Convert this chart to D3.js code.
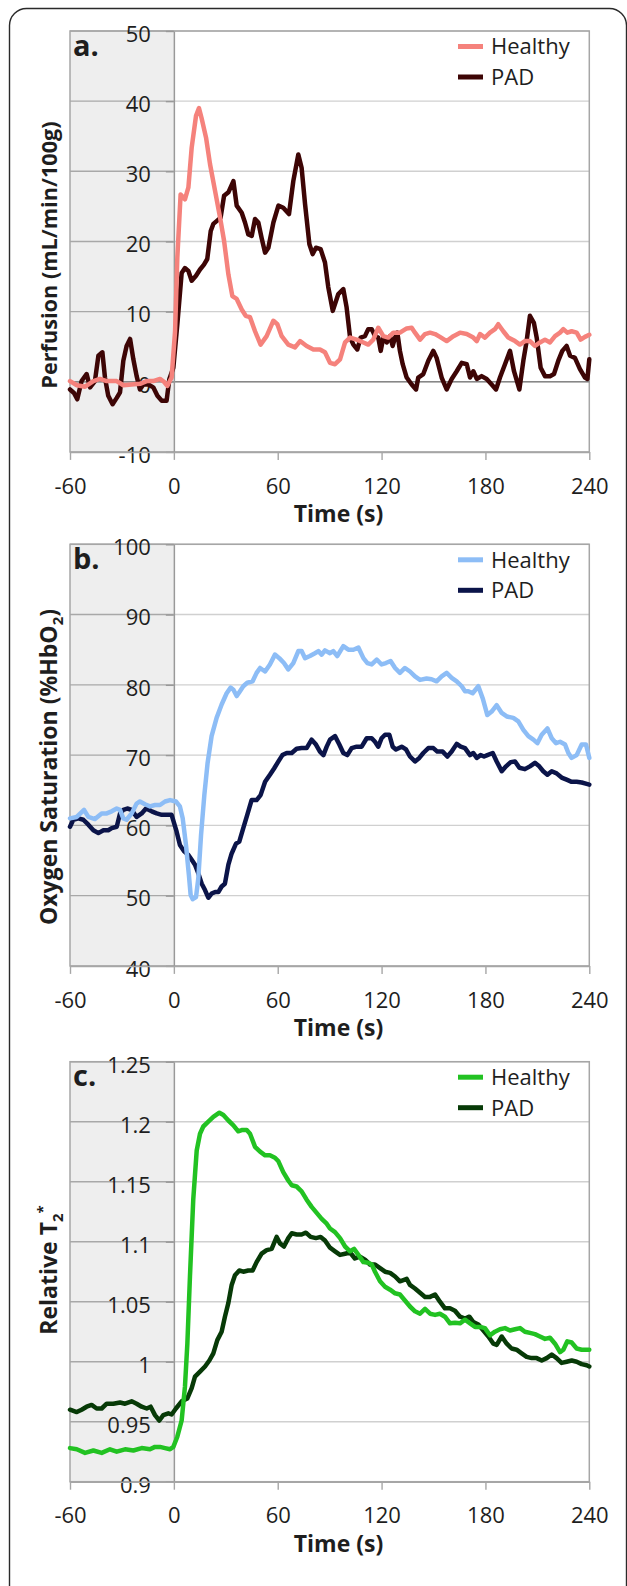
<!DOCTYPE html>
<html><head><meta charset="utf-8">
<script src="https://cdn.jsdelivr.net/npm/d3@7"></script>
<style>
html,body{margin:0;padding:0;background:#fff;}
svg{display:block;font-family:"Open Sans",sans-serif;}
</style></head><body>
<svg id="chart" width="627" height="1586"></svg>
<script>
// ---------- data ----------
const timeTicks = [-60, 0, 60, 120, 180, 240];
const perfTicks = [-10, 0, 10, 20, 30, 40, 50];
const oxyTicks = [40, 50, 60, 70, 80, 90, 100];
const t2Ticks = [0.9, 0.95, 1, 1.05, 1.1, 1.15, 1.2, 1.25];
const seriesNames = ["Healthy", "PAD"];

// [time (s), value]
const perfHealthy = [[-60,0.1],[-56,-0.5],[-51.3,-0.7],[-46.5,0.1],[-42.7,0.4],[-38.8,0.1],[-33,0.1],[-29.2,-0.5],[-24.4,-0.4],[-19.6,-0.3],[-15.7,0.1],[-11.9,0.1],[-8,0.4],[-5.7,0],[-3.8,-0.6],[-1.3,0.6],[0.7,7.2],[2,17.7],[3.9,26.7],[6.4,26],[8.4,27.7],[10.3,33.4],[12.8,37.9],[14.5,39],[16,37.6],[18.6,34.8],[20.9,31],[23.8,27.2],[26.7,23.4],[29,20.1],[31.5,15.3],[33.8,12.2],[36.3,11.8],[39.2,10.3],[41.5,9.4],[44,9.2],[46.9,7.2],[50.1,5.3],[53.6,6.5],[57.5,8.7],[59.8,8.2],[62.3,6.5],[66.1,5.3],[70,4.9],[72.9,5.8],[76.7,5.1],[80.6,4.6],[84.4,4.6],[87.3,4.2],[90.2,2.7],[93.1,2.5],[96,3.2],[98.9,5.6],[101.8,6.3],[105.6,6],[109.5,5.6],[112.3,5.3],[115.2,6],[118.1,7.7],[121,6.5],[123.9,6.3],[126.8,7],[130.6,7],[134.5,7.6],[137.4,7.7],[139.3,7],[142.2,6],[145.1,6.8],[148,7],[150.9,6.8],[153.7,6.4],[157.6,5.8],[161.5,6.5],[165.3,7],[169.2,6.8],[173,6.3],[175,5.8],[176.9,6.8],[179.7,6.3],[182.6,7],[185.5,7.5],[187.4,8.2],[190.3,7.2],[193.2,6.3],[197.1,5.8],[199.9,5.3],[202.8,5.8],[205.7,5.8],[208.6,5.1],[211.5,5.6],[214.4,6],[217.3,5.6],[220.2,6.5],[223.1,7],[225,7.5],[227.3,7],[229.8,7.2],[232.7,7],[235,6],[237.5,6.4],[240,6.7]];
const perfPAD = [[-60,-1.1],[-57.7,-1.6],[-55.8,-2.5],[-53.3,0.1],[-50.4,1.1],[-48.4,-0.8],[-45.6,0.1],[-43.6,3.7],[-41.3,4.2],[-39.8,0.6],[-37.9,-2],[-35.4,-3.2],[-33,-2.3],[-31.1,-1.5],[-29.2,3],[-27.3,5.1],[-25.3,6.1],[-23.4,3.2],[-21.5,0.8],[-19.6,-1.1],[-17.6,-0.4],[-14.7,-0.4],[-11.9,-0.8],[-9.5,-2],[-7,-2.7],[-4.2,-2.7],[-2.6,0.4],[-0.3,2],[2,8.2],[4.5,15.5],[6.4,16.2],[8.4,15.8],[10.3,14.4],[12.8,15.1],[15.1,16],[17.4,16.7],[19.3,17.5],[21.3,21.5],[22.8,22.5],[24.7,22.9],[27,23.4],[29,26.5],[31.5,27],[34.4,28.6],[36.3,25.1],[39.2,24.1],[41.1,22.7],[43,21],[45,20.8],[46.9,23.2],[48.8,22.7],[50.7,20.5],[52.7,18.4],[54.6,19.1],[57.5,22.7],[60.4,25.1],[63.2,24.8],[66.5,23.9],[69,28.6],[71.9,32.4],[73.8,30.5],[75.8,25.3],[78.3,19.6],[80.2,18.2],[82.1,19.1],[84.8,18.9],[87.3,17],[89.2,13.5],[91.8,10.1],[95,12.5],[97.9,13.2],[99.8,10.6],[101.8,6.3],[103.7,5.3],[106,4.6],[107.9,6.3],[110.4,6.5],[112.3,7.5],[114.3,7.5],[116.2,6.5],[118.1,6.3],[119.5,4.4],[121,6.3],[123,5.6],[124.9,6.5],[126.4,5.1],[127.8,6.3],[129.1,7],[130.6,4.4],[132.2,2.5],[134.5,0.6],[137.4,-0.4],[139.9,-1.1],[141.2,0.6],[144.1,1.1],[147,3],[149.9,4.4],[151.8,3.4],[154.7,0.6],[157.6,-1.1],[160.5,0.4],[163.4,1.5],[166.3,2.7],[169.2,2.5],[171.1,0.6],[173,1.5],[175,0.4],[177.8,0.8],[180.7,0.4],[183.6,-0.4],[186.1,-1.1],[188.4,0.6],[191.3,2.5],[194.2,4.4],[196.5,1.5],[199.6,-1.1],[201.9,3],[203.8,5.8],[205.7,9.4],[208,8.4],[209.6,6.3],[211.9,2],[214.4,0.8],[217.3,0.8],[219.6,1.1],[222.1,3],[224.4,4.4],[226.9,5.1],[228.9,3.7],[231.7,3.4],[234.6,1.8],[237.5,0.6],[238.9,0.4],[240,3.2]];

const oxyHealthy = [[-60,61],[-56.1,61.2],[-51.9,62.2],[-49.4,61.2],[-45.6,60.9],[-41.7,61.7],[-38.8,61.7],[-35.9,62],[-33,62.4],[-31.1,62.2],[-29.2,61],[-27.3,60.8],[-24.4,61.7],[-21.5,63.1],[-19.6,63.4],[-16.7,63],[-13.8,62.7],[-10.9,62.9],[-8,62.9],[-5.1,63.4],[-2.2,63.6],[1.2,63.4],[3.5,62.7],[5.1,61],[7,57.2],[8.7,52.9],[9.7,50.1],[10.9,49.5],[12.8,49.8],[14.1,52.4],[15.7,58.6],[17.6,64.3],[19.5,68.9],[21.8,72.7],[24.7,75.3],[27.6,77.2],[30.5,78.8],[32.8,79.6],[34.4,79.3],[36.3,78.4],[38.2,79.1],[40.1,79.8],[42.4,80.3],[45.5,80.5],[47.8,81.7],[49.8,82.4],[52.7,81.9],[55.5,82.9],[58.4,84.3],[60.9,83.8],[63.6,83.1],[66.1,82.2],[69,83.1],[71.9,84.8],[73.8,84.8],[75.8,83.8],[78.6,84.1],[81.5,84.5],[83.5,84.8],[85.4,84.3],[87.3,84.9],[90.2,84.5],[92.1,84.8],[94.4,84.1],[97.9,85.5],[100.8,85],[103.7,85],[106.6,85.3],[109.5,83.8],[111.8,83.1],[114.3,82.9],[117.2,83.6],[120,82.9],[122.5,83.1],[125.2,83.4],[127.8,82.4],[130.6,81.7],[133.5,82.4],[136.4,81.9],[139.3,81.2],[142.2,80.7],[146,80.9],[148.9,80.8],[151.8,80.5],[154.7,81.2],[157.6,81.7],[160.5,81],[163.4,80.5],[166.3,79.8],[168.2,79.1],[170.1,79.1],[172.6,78.8],[175.9,79.8],[178.4,78.1],[181.1,75.7],[183.6,76.2],[186.5,77.1],[189.4,76],[192.3,75.5],[196.1,75.3],[199,74.8],[201.9,73.6],[204.8,72.7],[207.7,72.2],[210,71.7],[212.5,72.9],[215.8,73.8],[218.3,72.4],[220.8,71.7],[223.1,71.9],[226,71.5],[227.9,70.3],[229.8,69.6],[232.7,70],[235.6,71.5],[238.1,71.5],[240,69.6]];
const oxyPAD = [[-60,59.8],[-58.1,60.8],[-55.2,61],[-52.3,60.8],[-49.4,60.1],[-46.5,59.3],[-43.6,58.9],[-40.7,59.3],[-37.9,59.3],[-35.9,59.6],[-33,59.8],[-31.1,61.7],[-29.2,62.2],[-26.9,62.4],[-24.4,62.2],[-21.5,61.2],[-18.6,61.7],[-16.1,62.4],[-12.8,62],[-9.9,61.7],[-7,61.5],[-4.2,61.5],[-1.3,61.5],[1.6,59.1],[3.5,57.2],[5.9,56.3],[8.4,55.8],[10.3,55.1],[12.2,54.4],[14.1,53.2],[16.1,51.7],[18,50.8],[19.9,49.7],[21.8,50.3],[23.8,50.5],[25.7,50.5],[27.6,51.3],[29.5,51.7],[31.5,54.4],[33.4,56],[35.9,57.4],[37.8,57.7],[40.1,59.6],[42.4,61.5],[44.9,63.6],[47.8,63.6],[50.1,64.3],[52.7,66.2],[55.5,67.2],[57.9,68.1],[60.4,69.1],[62.7,70],[65.2,70.3],[68.1,70.3],[70.9,70.9],[73.8,71],[76.7,71],[79.6,72.2],[82.1,71.5],[84.4,70.5],[86.4,70],[88.3,71.2],[90.2,72.2],[93.1,72.7],[95.6,71.5],[97.9,70.3],[100.2,70],[102.7,71],[105.6,71.2],[108.5,71.2],[111.4,72.4],[114.3,72.4],[116.2,71.9],[118.1,71.2],[120,72.4],[122,72.9],[124.5,72.9],[126.4,71.2],[128.3,70.8],[131.6,71.2],[134.1,70.8],[136.4,69.8],[139.3,69.1],[141.8,69.6],[144.1,70.3],[147,71],[149.9,71],[152.2,70.5],[155.3,70.5],[158,69.8],[160.5,70.5],[163.4,71.6],[165.7,71.2],[168.2,71],[171.1,70],[173,70.3],[175,69.6],[177.2,70],[179.2,69.8],[181.1,70],[184.2,70.3],[186.5,69.1],[189.4,67.7],[191.9,68.4],[194.6,69],[197.1,69.1],[199.6,68.2],[202.8,68],[205.7,68.4],[208.6,68.9],[211.1,68.4],[213.4,67.7],[215.8,67.2],[218.3,67.7],[221.1,67.4],[224,66.8],[226.9,66.5],[229.8,66.2],[232.7,66.2],[235.6,66.1],[238.5,65.9],[240,65.8]];

const t2Healthy = [[-60,0.928],[-56.1,0.927],[-51.3,0.924],[-46.5,0.926],[-41.7,0.924],[-36.9,0.927],[-33,0.925],[-28.2,0.927],[-23.4,0.926],[-18.6,0.928],[-13.8,0.927],[-10.9,0.929],[-8,0.929],[-5.1,0.928],[-2.2,0.927],[-0.3,0.929],[2,0.9375],[4.5,0.951],[6.4,0.979],[7.8,1.015],[9.3,1.071],[11.2,1.135],[13.2,1.176],[15.1,1.19],[17,1.196],[19.9,1.2],[22.8,1.204],[26.3,1.2075],[28.6,1.2056],[31.5,1.201],[34.4,1.197],[37.2,1.192],[39.2,1.193],[42.1,1.193],[44,1.19],[46.9,1.179],[49.8,1.175],[52.7,1.172],[55.5,1.172],[58.4,1.17],[60.4,1.167],[63.2,1.158],[66.1,1.151],[68.1,1.147],[70.9,1.146],[73.8,1.142],[76.7,1.135],[79.6,1.129],[82.5,1.124],[85.4,1.119],[88.3,1.115],[90.2,1.111],[93.1,1.108],[96,1.103],[98.9,1.096],[101.8,1.092],[104.1,1.094],[106.6,1.089],[109.5,1.083],[112.3,1.0825],[114.3,1.081],[116.2,1.075],[119.1,1.067],[122,1.0625],[124.9,1.06],[127.8,1.057],[130.6,1.056],[133.5,1.051],[136.4,1.046],[139.3,1.042],[142.2,1.04],[145.1,1.044],[148,1.04],[150.9,1.039],[153.7,1.04],[156.6,1.0375],[159.5,1.032],[162.4,1.0325],[165.3,1.032],[168.2,1.035],[171.1,1.032],[174,1.029],[176.9,1.029],[179.7,1.028],[182.6,1.022],[185.5,1.025],[188.4,1.027],[191.3,1.028],[194.2,1.026],[197.1,1.027],[200,1.028],[202.8,1.025],[205.7,1.024],[208.6,1.023],[211.5,1.021],[214.4,1.019],[217.3,1.02],[220.2,1.015],[223.1,1.008],[225,1.01],[227.3,1.017],[229.8,1.016],[232.7,1.011],[235.6,1.01],[238.5,1.01],[240,1.01]];
const t2PAD = [[-60,0.96],[-56.1,0.958],[-53.3,0.96],[-50.4,0.9625],[-47.5,0.964],[-44.6,0.961],[-41.7,0.961],[-38.8,0.965],[-35,0.965],[-31.1,0.966],[-28.2,0.965],[-24.4,0.967],[-21.5,0.965],[-18.6,0.9625],[-15.7,0.961],[-13.4,0.9625],[-10.9,0.9555],[-8.4,0.951],[-6.1,0.9555],[-3.2,0.957],[-1.3,0.956],[1.2,0.961],[4.5,0.967],[7.8,0.9694],[10.3,0.978],[12.2,0.9875],[15.1,0.9917],[18,0.996],[20.5,1.001],[22.8,1.007],[25.1,1.018],[27.6,1.025],[29.5,1.0375],[31.5,1.049],[33.4,1.064],[35.3,1.072],[37.8,1.076],[40.1,1.075],[43,1.076],[45.5,1.076],[47.8,1.083],[50.7,1.09],[53.6,1.093],[56.5,1.094],[59.4,1.104],[61.3,1.0986],[63.6,1.096],[66.1,1.103],[68.1,1.107],[70.9,1.106],[73.8,1.106],[76.3,1.1075],[79,1.104],[82.1,1.103],[84.8,1.104],[87.3,1.101],[90.2,1.095],[93.1,1.092],[96,1.089],[98.9,1.09],[101.8,1.091],[104.6,1.086],[107.5,1.0875],[110.4,1.085],[113.3,1.081],[116.2,1.081],[119.1,1.078],[122,1.075],[124.9,1.074],[127.8,1.071],[130.6,1.067],[132.6,1.068],[134.5,1.069],[136.4,1.064],[139.3,1.061],[142.2,1.0575],[145.1,1.054],[148,1.054],[150.9,1.056],[153.7,1.05],[156.6,1.0445],[159.5,1.0445],[162.4,1.0425],[165.3,1.0375],[168.2,1.036],[170.7,1.0375],[173,1.033],[175.9,1.031],[178.8,1.026],[181.7,1.021],[184.6,1.015],[186.5,1.014],[189.4,1.021],[192.3,1.015],[195.1,1.011],[198,1.01],[200.9,1.007],[203.8,1.004],[206.7,1.003],[209.6,1.003],[212.5,1.001],[215.4,1.003],[218.3,1.006],[221.1,1.003],[224,0.999],[226.9,1.0],[229.8,1.001],[232.7,1.0],[235.6,0.998],[238.5,0.997],[240,0.996]];

// ---------- layout ----------
const panels = [
  {letter:"a.", top:31, bottom:451.9, domain:[-10,50], ticks:perfTicks,
   healthy:perfHealthy, pad:perfPAD, colors:["#f5827c","#3d0505"], zeroLine:true,
   title:[{t:"Perfusion (mL/min/100g)"}], titleY:255, titleSize:21.7},
  {letter:"b.", top:544.3, bottom:965.9, domain:[40,100], ticks:oxyTicks,
   healthy:oxyHealthy, pad:oxyPAD, colors:["#8dbdf6","#0b1449"], zeroLine:false,
   title:[{t:"Oxygen Saturation (%HbO"},{t:"2",sub:true},{t:")"}], titleY:767, titleSize:23},
  {letter:"c.", top:1061.7, bottom:1481.7, domain:[0.9,1.25], ticks:t2Ticks,
   healthy:t2Healthy, pad:t2PAD, colors:["#22c222","#073a07"], zeroLine:false,
   title:[{t:"Relative T"},{t:"2",sub:true},{t:"*",sup:true}], titleY:1270, titleSize:23}
];

const svg = d3.select("#chart");
const textColor = "#1e1e1e";

// outer rounded frame (open at the bottom, as cropped)
svg.append("rect").attr("x",9.5).attr("y",8.5).attr("width",617).attr("height",1640)
  .attr("rx",17).attr("fill","none").attr("stroke","#2a2a2a").attr("stroke-width",1.4);

const x = d3.scaleLinear().domain([-60,240]).range([70,589.3]);

panels.forEach(p => {
  const y = d3.scaleLinear().domain(p.domain).range([p.bottom, p.top]);
  const g = svg.append("g");

  // baseline (pre-exercise) shading
  g.append("rect").attr("x",x(-60)).attr("y",p.top)
    .attr("width",x(0)-x(-60)).attr("height",p.bottom-p.top).attr("fill","#eeeeee");

  // gridlines
  p.ticks.slice(1).forEach(t => {
    g.append("line").attr("x1",x(-60)).attr("x2",x(0)).attr("y1",y(t)).attr("y2",y(t))
      .attr("stroke","#a8a8a8").attr("stroke-width",1.4);
    g.append("line").attr("x1",x(0)).attr("x2",x(240)).attr("y1",y(t)).attr("y2",y(t))
      .attr("stroke","#d0d0d0").attr("stroke-width",1.4);
  });

  // plot frame
  g.append("rect").attr("x",x(-60)).attr("y",p.top).attr("width",x(240)-x(-60))
    .attr("height",p.bottom-p.top).attr("fill","none").attr("stroke","#a6a6a6").attr("stroke-width",1.5);

  if (p.zeroLine) {
    g.append("line").attr("x1",x(-60)).attr("x2",x(240)).attr("y1",y(0)).attr("y2",y(0))
      .attr("stroke","#878787").attr("stroke-width",1.6);
  }

  // y axis at t = 0
  const ya = g.append("g").attr("transform",`translate(${x(0)},0)`)
    .call(d3.axisLeft(y).tickValues(p.ticks).tickFormat(d => String(d))
      .tickSize(8).tickPadding(15).tickSizeOuter(0));
  ya.select(".domain").attr("stroke","#999").attr("stroke-width",1.5);
  ya.selectAll(".tick line").attr("stroke","#999").attr("stroke-width",1.4);
  ya.selectAll(".tick text").attr("font-size",22).attr("fill",textColor)
    .attr("font-family","Open Sans").attr("dy","0.47em");

  // x axis
  const xa = g.append("g").attr("transform",`translate(0,${p.bottom})`)
    .call(d3.axisBottom(x).tickValues(timeTicks).tickFormat(d => String(d))
      .tickSize(8).tickPadding(18).tickSizeOuter(0));
  xa.select(".domain").attr("stroke","#a6a6a6").attr("stroke-width",1.5);
  xa.selectAll(".tick line").attr("stroke","#a6a6a6").attr("stroke-width",1.4);
  xa.selectAll(".tick text").attr("font-size",22).attr("fill",textColor)
    .attr("font-family","Open Sans");

  // lines
  const line = d3.line().x(d => x(d[0])).y(d => y(d[1]));
  [[p.pad,p.colors[1]],[p.healthy,p.colors[0]]].forEach(([data,col]) => {
    g.append("path").datum(data).attr("d",line).attr("fill","none")
      .attr("stroke",col).attr("stroke-width",4.5)
      .attr("stroke-linejoin","round").attr("stroke-linecap","round");
  });

  // legend
  seriesNames.forEach((name,i) => {
    const ly = p.top + 15.5 + i*30.5;
    g.append("line").attr("x1",458).attr("x2",483).attr("y1",ly).attr("y2",ly)
      .attr("stroke",p.colors[i]).attr("stroke-width",5);
    g.append("text").attr("x",491).attr("y",ly).attr("dy","0.36em")
      .attr("font-size",22).attr("fill",textColor).text(name);
  });

  // panel letter
  g.append("text").attr("x",73).attr("y",p.top+24.5).attr("font-size",29)
    .attr("font-weight","bold").attr("fill",textColor).text(p.letter);

  // x title
  g.append("text").attr("x",338.5).attr("y",p.bottom+70).attr("text-anchor","middle")
    .attr("font-size",23).attr("font-weight","bold").attr("fill",textColor).text("Time (s)");

  // y title
  const yt = g.append("text").attr("transform",`translate(57,${p.titleY}) rotate(-90)`)
    .attr("text-anchor","middle").attr("font-size",p.titleSize).attr("font-weight","bold").attr("fill",textColor);
  let shift = 0;
  p.title.forEach(s => {
    const ts = yt.append("tspan").text(s.t);
    let target = s.sub ? 6 : (s.sup ? -9 : 0);
    if (s.sub || s.sup) ts.attr("font-size",15);
    ts.attr("dy", target - shift);
    shift = target;
  });
});
</script>
</body></html>
